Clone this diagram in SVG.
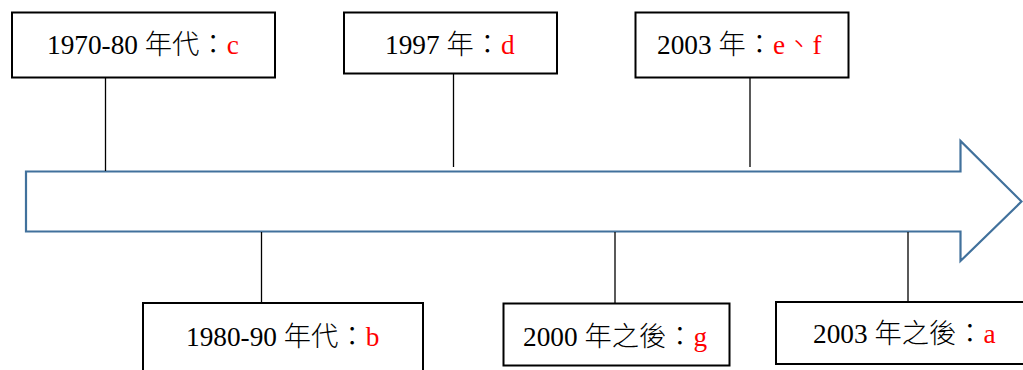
<svg xmlns="http://www.w3.org/2000/svg" width="1023" height="370" viewBox="0 0 1023 370">
<style>
.box{fill:#fff;stroke:#000;stroke-width:2}
.ln{stroke:#000;stroke-width:1.3;fill:none}
.t{font-family:"Liberation Serif","Noto Sans CJK TC",serif;font-size:27.3px;fill:#000}
.c{font-weight:300}
.r{fill:#ff0000}
</style>
<rect width="1023" height="370" fill="#fff"/>
<g id="timeline-arrow">
<path d="M26,171.5 L960.5,171.5 L960.5,141 L1021.5,201.5 L960.5,261 L960.5,231.5 L26,231.5 Z" fill="#fff" stroke="#41719c" stroke-width="2.2"/>
</g>
<g id="connectors">
<line class="ln" x1="105.5" y1="78" x2="105.5" y2="171"/>
<line class="ln" x1="453.5" y1="74" x2="453.5" y2="167"/>
<line class="ln" x1="750" y1="78" x2="750" y2="167"/>
<line class="ln" x1="261.5" y1="232" x2="261.5" y2="303"/>
<line class="ln" x1="615" y1="232" x2="615" y2="303"/>
<line class="ln" x1="908" y1="232" x2="908" y2="302"/>
</g>
<g id="n1970">
<rect class="box" x="12" y="12.5" width="263" height="65"/>
<text class="t" x="47" y="53.5">1970-80 <tspan class="c">年代：</tspan><tspan class="r">c</tspan></text>
</g>
<g id="n1997">
<rect class="box" x="344" y="12.5" width="213" height="61"/>
<text class="t" x="385" y="53.5">1997 <tspan class="c">年：</tspan><tspan class="r">d</tspan></text>
</g>
<g id="n2003">
<rect class="box" x="635.5" y="12.5" width="213" height="65"/>
<text class="t" x="657" y="53.5">2003 <tspan class="c">年：</tspan><tspan class="r">e<tspan class="c">、</tspan>f</tspan></text>
</g>
<g id="n1980">
<rect class="box" x="143" y="303" width="280" height="80"/>
<text class="t" x="186" y="345.5">1980-90 <tspan class="c">年代：</tspan><tspan class="r">b</tspan></text>
</g>
<g id="n2000">
<rect class="box" x="503.5" y="303.5" width="226" height="62"/>
<text class="t" x="523" y="345.5">2000 <tspan class="c">年之後：</tspan><tspan class="r">g</tspan></text>
</g>
<g id="n2003after">
<rect class="box" x="776" y="302" width="260" height="62"/>
<text class="t" x="813" y="342.5">2003 <tspan class="c">年之後：</tspan><tspan class="r">a</tspan></text>
</g>
</svg>
